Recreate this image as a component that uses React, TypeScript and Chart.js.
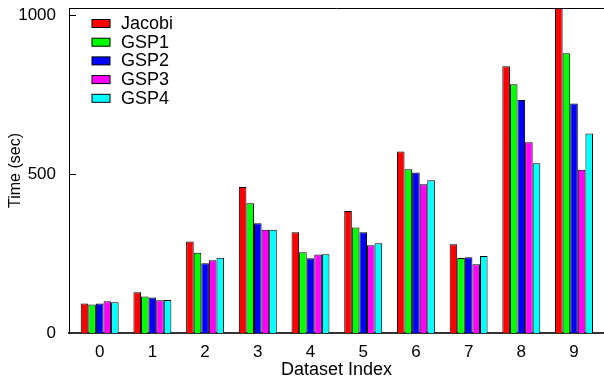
import React, { useEffect, useRef } from "react";
import { Chart, registerables } from "chart.js";

Chart.register(...registerables);

const datasetIndex = [0, 1, 2, 3, 4, 5, 6, 7, 8, 9];
const seriesNames = ["Jacobi", "GSP1", "GSP2", "GSP3", "GSP4"];
const seriesColors = ["#ff0000", "#00ff00", "#0000ff", "#ff00ff", "#00ffff"];
const jacobi = [93, 128, 288, 459, 317, 384, 571, 279, 839, 1050];
const gsp1 = [90, 115, 252, 408, 254, 332, 515, 236, 782, 880];
const gsp2 = [93, 112, 219, 345, 235, 317, 505, 238, 733, 722];
const gsp3 = [100, 103, 229, 325, 247, 276, 468, 216, 600, 513];
const gsp4 = [97, 104, 237, 325, 248, 282, 480, 242, 534, 627];
const yTickValues = [0, 500, 1000];

const FONT = "'Liberation Sans', Arial, Helvetica, sans-serif";

export default function App() {
  const ref = useRef<HTMLCanvasElement | null>(null);

  useEffect(() => {
    const canvas = ref.current;
    if (!canvas) return;
    const all = [jacobi, gsp1, gsp2, gsp3, gsp4];

    const extras = {
      id: "extras",
      afterDatasetsDraw(chart: any) {
        const { ctx, chartArea } = chart;
        const y = chart.scales.y;
        ctx.save();
        ctx.strokeStyle = "#000";
        ctx.lineWidth = 1;
        ctx.beginPath();
        ctx.moveTo(chartArea.left, chartArea.top + 0.5);
        ctx.lineTo(chartArea.right, chartArea.top + 0.5);
        ctx.stroke();
        yTickValues.forEach((v) => {
          if (v === 0) return;
          const py = Math.round(y.getPixelForValue(v)) + 0.5;
          ctx.beginPath();
          ctx.moveTo(chartArea.left, py);
          ctx.lineTo(chartArea.left + 7, py);
          ctx.stroke();
        });
        ctx.font = `18px ${FONT}`;
        ctx.textBaseline = "middle";
        ctx.textAlign = "left";
        chart.data.datasets.forEach((ds: any, i: number) => {
          const by = 19.5 + i * 18.7;
          ctx.fillStyle = ds.backgroundColor;
          ctx.fillRect(92, by, 18, 8);
          ctx.strokeStyle = "#000";
          ctx.strokeRect(92, by, 18, 8);
          ctx.fillStyle = "#000";
          ctx.fillText(ds.label, 121, by + 4.5);
        });
        ctx.restore();
      },
    };

    const chart = new Chart(canvas, {
      type: "bar",
      data: {
        datasets: seriesNames.map((name, k) => ({
          label: name,
          data: datasetIndex.map((x, i) => ({ x, y: all[k][i] })),
          backgroundColor: seriesColors[k],
          borderColor: "#000",
          borderWidth: 1,
          categoryPercentage: 0.72,
          barPercentage: 1.0,
        })),
      },
      options: {
        animation: false,
        responsive: false,
        maintainAspectRatio: false,
        layout: { padding: { top: 8, left: 0, right: 0, bottom: 0 } },
        plugins: {
          legend: { display: false },
          tooltip: { enabled: false },
        },
        scales: {
          x: {
            type: "linear",
            offset: false,
            min: -0.5825,
            max: 9.569,
            afterFit: (s: any) => {
              s.height = 49;
              s.paddingLeft = 0;
              s.paddingRight = 0;
            },
            afterBuildTicks: (s: any) => {
              s.ticks = datasetIndex.map((v) => ({ value: v }));
            },
            ticks: {
              font: { family: FONT, size: 17 },
              color: "#000",
              padding: 9,
              callback: (v: any) => String(v),
            },
            grid: { display: false, drawTicks: false, offset: false },
            border: { display: true, color: "#333", width: 2 },
            title: {
              display: true,
              text: "Dataset Index",
              font: { family: FONT, size: 18 },
              color: "#000",
              padding: { top: 0, bottom: 1 },
            },
          },
          y: {
            min: 0,
            max: 1022,
            afterFit: (s: any) => {
              s.width = 69;
              s.paddingTop = 0;
              s.paddingBottom = 0;
            },
            afterBuildTicks: (s: any) => {
              s.ticks = yTickValues.map((v) => ({ value: v }));
            },
            ticks: {
              font: { family: FONT, size: 17 },
              color: "#000",
              padding: 13,
              callback: (v: any) => String(v),
            },
            grid: { display: false, drawTicks: false },
            border: { display: true, color: "#000", width: 1 },
            title: {
              display: true,
              text: "Time (sec)",
              font: { family: FONT, size: 16 },
              color: "#000",
              padding: { top: 6, bottom: 0 },
            },
          },
        },
      },
      plugins: [extras],
    });
    return () => chart.destroy();
  }, []);

  return (
    <div style={{ position: "fixed", left: 0, top: 0, width: 604, height: 382, background: "#fff" }}>
      <canvas ref={ref} width={604} height={382} style={{ width: 604, height: 382, display: "block" }} />
    </div>
  );
}
